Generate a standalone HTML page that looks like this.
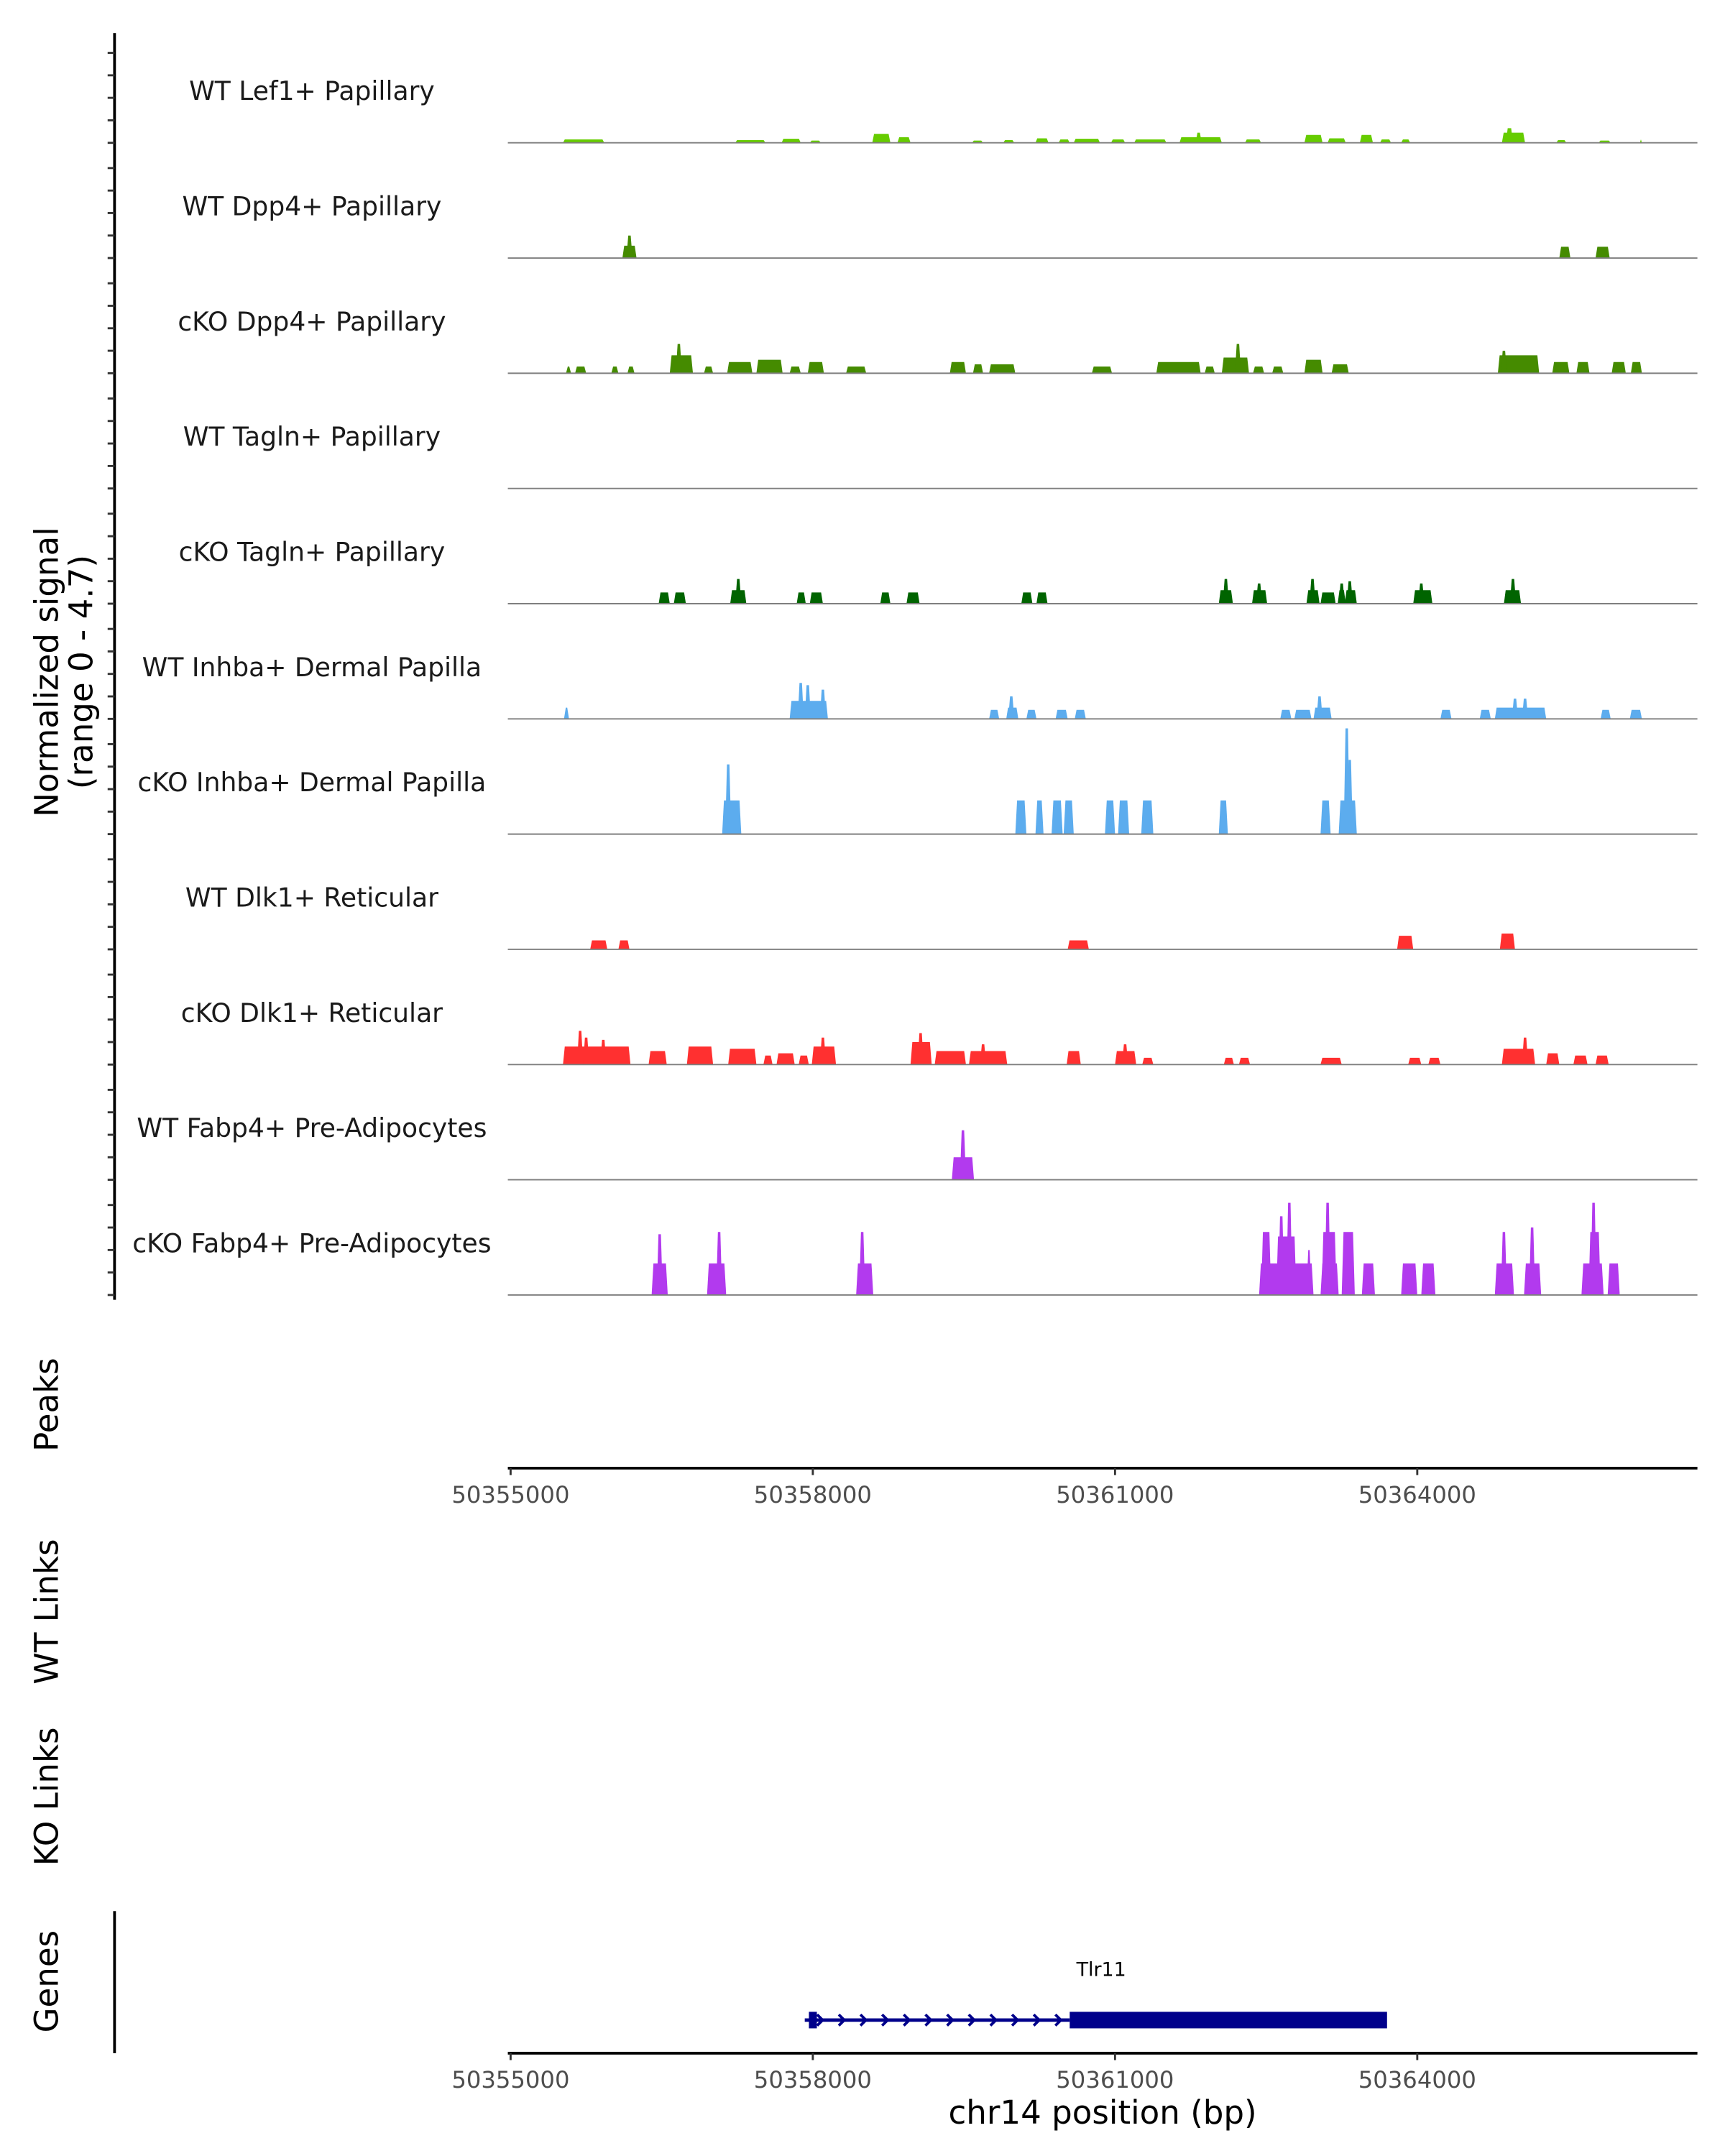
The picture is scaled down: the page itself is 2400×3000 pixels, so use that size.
<!DOCTYPE html>
<html><head><meta charset="utf-8"><style>
html,body{margin:0;padding:0;background:#fff;}
svg{display:block;font-family:"DejaVu Sans","Liberation Sans",sans-serif;}
</style></head><body>
<svg id="chart" width="2400" height="3000" viewBox="0 0 1250 1562.5" xmlns="http://www.w3.org/2000/svg">
<rect width="1250" height="1562.5" fill="#fff"/>
<g id="tracks"></g>
<line x1="83" y1="24" x2="83" y2="942" stroke="#000" stroke-width="2"/>
<g id="yticks"></g>
<text transform="translate(42,487) rotate(-90)" text-anchor="middle" font-size="23.5">Normalized signal</text>
<text transform="translate(67,487) rotate(-90)" text-anchor="middle" font-size="23.5">(range 0 - 4.7)</text>
<text transform="translate(42,1018) rotate(-90)" text-anchor="middle" font-size="23.5">Peaks</text>
<line x1="368" y1="1064" x2="1230" y2="1064" stroke="#000" stroke-width="2"/>
<g id="xt1"></g>
<text transform="translate(42,1168) rotate(-90)" text-anchor="middle" font-size="23.5">WT Links</text>
<text transform="translate(42,1302) rotate(-90)" text-anchor="middle" font-size="23.5">KO Links</text>
<text transform="translate(42,1436) rotate(-90)" text-anchor="middle" font-size="23.5">Genes</text>
<line x1="83" y1="1385" x2="83" y2="1488" stroke="#000" stroke-width="2"/>
<g id="gene"></g>
<line x1="368" y1="1488" x2="1230" y2="1488" stroke="#000" stroke-width="2"/>
<g id="xt2"></g>
<text x="799" y="1539" text-anchor="middle" font-size="23.5">chr14 position (bp)</text>
</svg>
<script>
const trackNames = ["WT Lef1+ Papillary","WT Dpp4+ Papillary","cKO Dpp4+ Papillary","WT Tagln+ Papillary","cKO Tagln+ Papillary","WT Inhba+ Dermal Papilla","cKO Inhba+ Dermal Papilla","WT Dlk1+ Reticular","cKO Dlk1+ Reticular","WT Fabp4+ Pre-Adipocytes","cKO Fabp4+ Pre-Adipocytes"];
const trackColors = ["#66CC00","#458B00","#458B00","#006400","#006400","#5CACEE","#5CACEE","#FF3030","#FF3030","#B23AEE","#B23AEE"];
const yTickValues = [0,1,2,3,4];
// peaks: [start kb offset from 50355000, end kb offset, signal]
const lef1WT = [[0.52,0.93,.15],[2.23,2.53,.12],[2.69,2.88,.18],[2.97,3.08,.1],[3.59,3.77,.4],[3.84,3.97,.25],[4.58,4.69,.1],[4.89,5.00,.12],[5.21,5.34,.2],[5.44,5.55,.15],[5.59,5.85,.18],[5.96,6.10,.15],[6.19,6.51,.15],[6.64,7.06,.25],[6.80,6.86,.45],[7.29,7.45,.15],[7.88,8.06,.35],[8.11,8.29,.2],[8.43,8.56,.35],[8.63,8.74,.15],[8.84,8.93,.15],[9.84,10.07,.45],[9.88,9.95,.65],[10.38,10.48,.12],[10.80,10.92,.1],[11.21,11.23,.15]];
const dpp4WT = [[1.11,1.25,.55],[1.15,1.21,1.0],[10.41,10.52,.5],[10.77,10.91,.5]];
const dpp4KO = [[0.55,0.60,.3],[0.64,0.75,.3],[1.00,1.07,.3],[1.16,1.23,.3],[1.58,1.81,.8],[1.64,1.70,1.3],[1.92,2.01,.3],[2.15,2.40,.5],[2.44,2.70,.6],[2.77,2.88,.3],[2.95,3.11,.5],[3.33,3.53,.3],[4.36,4.52,.5],[4.59,4.69,.4],[4.75,5.01,.4],[5.77,5.97,.3],[6.41,6.85,.5],[6.89,6.99,.3],[7.06,7.33,.7],[7.19,7.25,1.3],[7.37,7.48,.3],[7.56,7.67,.3],[7.88,8.06,.6],[8.15,8.32,.4],[9.80,10.21,.8],[9.83,9.89,1.0],[10.34,10.51,.5],[10.58,10.71,.5],[10.93,11.07,.5],[11.12,11.23,.5]];
const taglnWT = [];
const taglnKO = [[1.47,1.58,.5],[1.62,1.74,.5],[2.18,2.34,.6],[2.23,2.29,1.1],[2.84,2.93,.5],[2.97,3.10,.5],[3.67,3.77,.5],[3.93,4.06,.5],[5.07,5.18,.5],[5.22,5.33,.5],[7.03,7.17,.6],[7.07,7.13,1.1],[7.36,7.51,.6],[7.40,7.46,.9],[7.90,8.03,.6],[7.93,7.99,1.1],[8.04,8.19,.5],[8.21,8.29,.6],[8.22,8.28,.9],[8.28,8.40,.6],[8.30,8.36,1.0],[8.96,9.15,.6],[9.01,9.07,.9],[9.86,10.03,.6],[9.92,9.98,1.1]];
const inhbaWT = [[0.53,0.58,.5],[2.77,3.15,.8],[2.85,2.91,1.6],[2.92,2.98,1.5],[3.07,3.13,1.3],[4.75,4.85,.4],[4.92,5.04,.5],[4.94,5.00,1.0],[5.12,5.22,.4],[5.41,5.53,.4],[5.60,5.71,.4],[7.64,7.75,.4],[7.78,7.95,.4],[7.97,8.15,.5],[8.00,8.06,1.0],[9.23,9.34,.4],[9.62,9.73,.4],[9.77,10.28,.5],[9.94,10.00,.9],[10.04,10.10,.9],[10.82,10.92,.4],[11.11,11.23,.4]];
const inhbaKO = [[2.10,2.29,1.5],[2.13,2.19,3.1],[5.01,5.12,1.5],[5.21,5.29,1.5],[5.37,5.48,1.5],[5.49,5.59,1.5],[5.90,6.00,1.5],[6.03,6.14,1.5],[6.26,6.38,1.5],[7.03,7.12,1.5],[8.04,8.14,1.5],[8.22,8.40,1.5],[8.27,8.33,4.7],[8.30,8.36,3.3]];
const dlk1WT = [[0.79,0.96,.4],[1.07,1.18,.4],[5.53,5.74,.4],[8.80,8.96,.6],[9.82,9.97,.7]];
const dlk1KO = [[0.52,1.19,.8],[0.66,0.72,1.5],[0.72,0.78,1.2],[0.89,0.95,1.1],[1.37,1.55,.6],[1.75,2.01,.8],[2.16,2.44,.7],[2.51,2.60,.4],[2.64,2.82,.5],[2.86,2.96,.4],[2.99,3.23,.8],[3.07,3.13,1.2],[3.97,4.18,1.0],[4.04,4.10,1.4],[4.21,4.52,.6],[4.55,4.93,.6],[4.66,4.72,.9],[5.52,5.66,.6],[6.00,6.21,.6],[6.07,6.13,.9],[6.27,6.38,.3],[7.08,7.18,.3],[7.23,7.34,.3],[8.04,8.25,.3],[8.91,9.04,.3],[9.11,9.23,.3],[9.84,10.17,.7],[10.04,10.10,1.2],[10.28,10.41,.5],[10.55,10.69,.4],[10.77,10.90,.4]];
const fabp4WT = [[4.38,4.60,1.0],[4.46,4.52,2.2]];
const fabp4KO = [[1.40,1.56,1.4],[1.45,1.51,2.7],[1.95,2.14,1.4],[2.04,2.10,2.8],[3.43,3.60,1.4],[3.46,3.52,2.8],[7.43,7.97,1.4],[7.45,7.55,2.8],[7.60,7.80,2.6],[7.62,7.68,3.5],[7.70,7.76,4.1],[7.90,7.95,2.0],[8.04,8.22,1.4],[8.05,8.20,2.8],[8.08,8.14,4.1],[8.25,8.38,2.8],[8.45,8.58,1.4],[8.84,9.00,1.4],[9.04,9.18,1.4],[9.77,9.96,1.4],[9.83,9.89,2.8],[10.06,10.23,1.4],[10.11,10.17,3.0],[10.63,10.85,1.4],[10.70,10.82,2.8],[10.72,10.78,4.1],[10.89,11.01,1.4]];
const trackData = [lef1WT,dpp4WT,dpp4KO,taglnWT,taglnKO,inhbaWT,inhbaKO,dlk1WT,dlk1KO,fabp4WT,fabp4KO];
const xTicks = [50355000,50358000,50361000,50364000];
const geneStart = 50357920, geneEnd = 50363700, cdsStart = 50360550, exon1End = 50358040;

const NS = "http://www.w3.org/2000/svg";
const X0 = 370, PXKB = 73;
function xKb(kb){ return X0 + kb*PXKB; }
function xBp(bp){ return X0 + (bp-50355000)/1000*PXKB; }
const base0 = 103.5, trackStep = 83.5, yUnit = 16.3;
function baseY(i){ return base0 + i*trackStep; }
function yVal(i,v){ return baseY(i) - v*yUnit; }
function mk(tag, attrs, parent){ const e=document.createElementNS(NS,tag); for(const k in attrs) e.setAttribute(k,attrs[k]); parent.appendChild(e); return e; }

const tg = document.getElementById('tracks');
const yt = document.getElementById('yticks');
trackNames.forEach((name,i)=>{
  const g = mk('g',{},tg);
  
  
  const t = mk('text',{x:226,y:baseY(i)-31,'text-anchor':'middle','font-size':18.8,fill:'#1a1a1a'},g);
  t.textContent = name;
  
  
  trackData[i].forEach(p=>{
    const xs=xKb(p[0]), xe=xKb(p[1]), sl=Math.min(1.3,(xe-xs)/2), y=yVal(i,p[2]), b=baseY(i);
    const poly = mk('polygon',{points:`${xs},${b} ${xs+sl},${y} ${xe-sl},${y} ${xe},${b}`,fill:trackColors[i]},g);
    
    
  });
  const l = mk('line',{x1:368,x2:1230,y1:baseY(i),y2:baseY(i),stroke:'#7f7f7f','stroke-width':1},g);
  
  
  yTickValues.forEach(v=>{
    const tk = mk('line',{x1:78,x2:83,y1:yVal(i,v),y2:yVal(i,v),stroke:'#333','stroke-width':1.5},yt);
    
    
  });
});
function xAxis(id, y){
  const g=document.getElementById(id);
  xTicks.forEach(v=>{
    const l=mk('line',{x1:xBp(v),x2:xBp(v),y1:y,y2:y+5,stroke:'#333','stroke-width':1.5},g);
    
    
    const t=mk('text',{x:xBp(v),y:y+25,'text-anchor':'middle','font-size':16.8,fill:'#4d4d4d'},g);
    t.textContent=v;
    
    
  });
}
xAxis('xt1',1064); xAxis('xt2',1488);
const gg=document.getElementById('gene'); const gy=1464;
mk('line',{x1:xBp(geneStart),x2:xBp(cdsStart),y1:gy,y2:gy,stroke:'#00008B','stroke-width':2.5},gg);
for(let bp=geneStart+150; bp<cdsStart; bp+=215){
  const x=xBp(bp);
  const a=mk('polyline',{points:`${x-2},${gy-4} ${x+2},${gy} ${x-2},${gy+4}`,fill:'none',stroke:'#00008B','stroke-width':2},gg);
  
  
}
const e1=mk('rect',{x:xBp(geneStart)+3,y:gy-6,width:xBp(exon1End)-xBp(geneStart)-3,height:12,fill:'#00008B'},gg);


const e2=mk('rect',{x:xBp(cdsStart),y:gy-6,width:xBp(geneEnd)-xBp(cdsStart),height:12,fill:'#00008B'},gg);


const gl=mk('text',{x:798,y:1432,'text-anchor':'middle','font-size':14,fill:'#000'},gg);
gl.textContent='Tlr11';


</script>
</body></html>
